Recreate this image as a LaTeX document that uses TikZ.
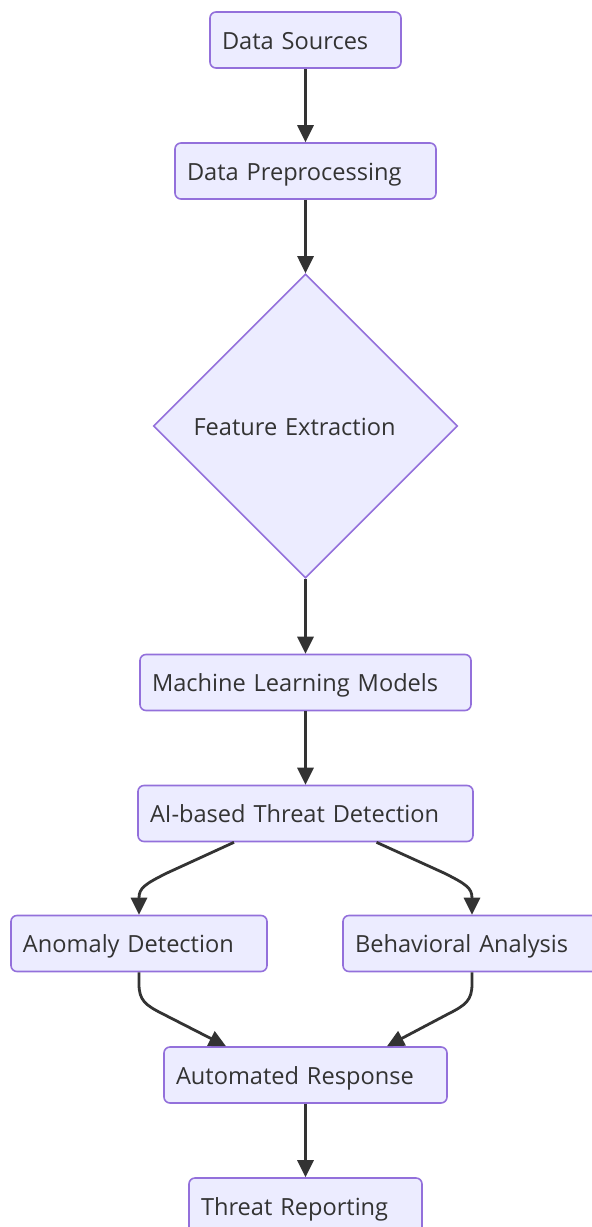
\documentclass[tikz,border=0pt]{standalone}
\usepackage{fontspec}
\setmainfont{Open Sans}
\usetikzlibrary{shapes.geometric,arrows.meta}
\definecolor{nodefill}{HTML}{ECECFF}
\definecolor{nodeline}{HTML}{9370DB}
\definecolor{ink}{HTML}{333333}
\tikzset{
  box/.style={draw=nodeline, fill=nodefill, line width=1.6pt, rounded corners=6pt,
    minimum height=56pt, inner xsep=12pt, inner ysep=0pt, align=left, text=ink,
    text height=24pt, text depth=5.4pt,
    font=\fontsize{23.6}{29}\selectfont},
  dia/.style={draw=nodeline, fill=nodefill, line width=1.6pt, diamond, shape aspect=1,
    minimum width=304pt, minimum height=304pt, inner sep=0pt, align=left, text=ink,
    text height=24pt, text depth=5.4pt,
    text width=224pt, font=\fontsize{23.6}{29}\selectfont},
  arr/.style={draw=ink, line width=2.8pt, -{Triangle[length=17pt,width=16pt]}}
}
\begin{document}
\begin{tikzpicture}[x=1pt,y=-1pt]
\useasboundingbox (0,0) rectangle (592,1227);
\clip (0,0) rectangle (592,1227);
\node[box, text width=167pt] (ds) at (305.5,40) {Data Sources};
\node[box, text width=237pt] (dp) at (305.5,171) {Data Preprocessing};
\node[dia] (fe) at (305.5,426) {Feature Extraction};
\node[box, text width=307pt] (ml) at (305.5,682.5) {Machine Learning Models};
\node[box, text width=311pt] (ai) at (305.5,813.5) {AI-based Threat Detection};
\node[box, text width=232pt] (ad) at (139,943.5) {Anomaly Detection};
\node[box, text width=234pt] (ba) at (472,943.5) {Behavioral Analysis};
\node[box, text width=259pt] (ar) at (305.5,1075) {Automated Response};
\node[box, text width=209pt] (tr) at (305.5,1206) {Threat Reporting};

\draw[arr] (ds) -- (dp);
\draw[arr] (dp) -- (fe);
\draw[arr] (fe) -- (ml);
\draw[arr] (ml) -- (ai);
\draw[arr] ([xshift=-71.5pt]ai.south) -- (167,873) .. controls (145,884) and (139,888) .. (139,898) -- (ad.north);
\draw[arr] ([xshift=71pt]ai.south) -- (444,873) .. controls (466,884) and (472,888) .. (472,898) -- (ba.north);
\draw[arr] (ad.south) -- (139,984) .. controls (139,1000) and (145,1005) .. (163,1014) -- ([xshift=-79.5pt]ar.north);
\draw[arr] (ba.south) -- (472,984) .. controls (472,1000) and (466,1005) .. (448,1014) -- ([xshift=81.5pt]ar.north);
\draw[arr] (ar) -- (tr);
\end{tikzpicture}
\end{document}
